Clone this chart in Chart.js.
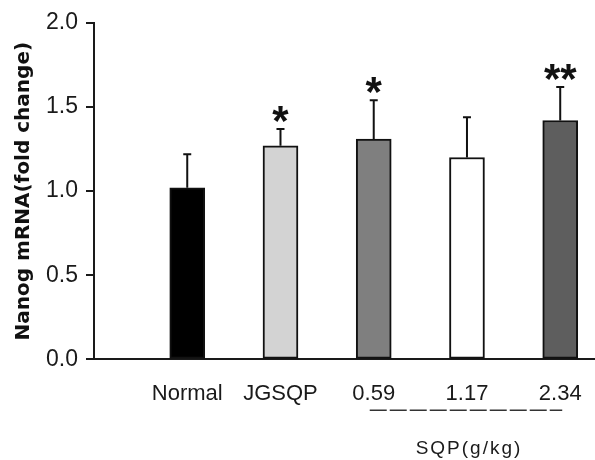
<!DOCTYPE html>
<html>
<head>
<meta charset="utf-8">
<script src="https://cdn.jsdelivr.net/npm/chart.js@4.4.1/dist/chart.umd.min.js"></script>
<style>
html,body{margin:0;padding:0;background:#fff;}
#wrap{width:595px;height:460px;position:relative;}
</style>
</head>
<body>
<div id="wrap"><canvas id="c" width="595" height="460"></canvas></div>
<script>
const categories = ['Normal', 'JGSQP', '0.59', '1.17', '2.34'];
const values = [1.02, 1.27, 1.31, 1.20, 1.42];
const errors = [0.20, 0.10, 0.23, 0.24, 0.20];
const significance = ['', '*', '*', '', '**'];
const barColors = ['#000000', '#d3d3d3', '#7f7f7f', '#ffffff', '#5e5e5e'];
const yTicks = [0, 0.5, 1.0, 1.5, 2.0];
const yTitle = 'Nanog mRNA(fold change)';
const groupLabel = 'SQP(g/kg)';
const groupFrom = 2; // index of first SQP dose
const groupTo = 4;   // index of last SQP dose

const ink = '#1a1a1a';

const annotations = {
  id: 'annotations',
  afterDatasetsDraw(chart) {
    const ctx = chart.ctx;
    const ys = chart.scales.y;
    const meta = chart.getDatasetMeta(0);
    ctx.save();
    ctx.strokeStyle = '#111';
    ctx.fillStyle = '#111';
    ctx.lineWidth = 2;
    meta.data.forEach((bar, i) => {
      const px = bar.x;
      const top = ys.getPixelForValue(values[i]);
      const et = ys.getPixelForValue(values[i] + errors[i]);
      ctx.beginPath();
      ctx.moveTo(px, top);
      ctx.lineTo(px, et);
      ctx.moveTo(px - 4, et);
      ctx.lineTo(px + 4, et);
      ctx.stroke();
      if (significance[i]) {
        ctx.font = 'bold 42px "Liberation Sans", Arial, sans-serif';
        ctx.textAlign = 'center';
        ctx.textBaseline = 'alphabetic';
        const m = ctx.measureText(significance[i]);
        const cy = et - 15;
        const base = cy + (m.actualBoundingBoxAscent - m.actualBoundingBoxDescent) / 2;
        ctx.fillText(significance[i], px, base);
      }
    });
    ctx.restore();
  },
  afterDraw(chart) {
    const ctx = chart.ctx;
    const xs = chart.scales.x;
    const x0 = xs.getPixelForValue(groupFrom + 1) - 4;
    const x1 = xs.getPixelForValue(groupTo + 1) + 2;
    const ly = xs.top + 51;
    ctx.save();
    ctx.strokeStyle = '#333';
    ctx.lineWidth = 1.5;
    ctx.setLineDash([17, 3]);
    ctx.beginPath();
    ctx.moveTo(x0, ly);
    ctx.lineTo(x1, ly);
    ctx.stroke();
    ctx.setLineDash([]);
    ctx.fillStyle = ink;
    ctx.font = '19px "Liberation Sans", Arial, sans-serif';
    ctx.letterSpacing = '2px';
    ctx.textAlign = 'center';
    ctx.textBaseline = 'middle';
    ctx.fillText(groupLabel, (x0 + x1) / 2 + 3, xs.top + 89);
    ctx.restore();
  }
};

new Chart(document.getElementById('c'), {
  type: 'bar',
  data: {
    datasets: [{
      data: values.map((v, i) => ({ x: i + 1, y: v })),
      backgroundColor: barColors,
      borderColor: '#111',
      borderWidth: 2,
      borderSkipped: false,
      barThickness: 35
    }]
  },
  options: {
    responsive: false,
    devicePixelRatio: 1,
    animation: false,
    layout: { padding: { top: 23, left: 0, right: 0, bottom: 0 } },
    plugins: { legend: { display: false }, tooltip: { enabled: false } },
    scales: {
      x: {
        type: 'linear',
        min: 0,
        max: 5.373,
        offset: false,
        grid: { display: false },
        border: { display: true, color: ink, width: 2 },
        afterBuildTicks: s => { s.ticks = categories.map((c, i) => ({ value: i + 1 })); },
        ticks: {
          autoSkip: false,
          maxRotation: 0,
          padding: 13,
          color: ink,
          font: { family: '"Liberation Sans", Arial, sans-serif', size: 22 },
          callback: v => categories[v - 1] ?? ''
        },
        afterFit: s => { s.height = 100.7; }
      },
      y: {
        min: 0,
        max: 2,
        afterBuildTicks: s => { s.ticks = yTicks.map(v => ({ value: v })); },
        grid: { drawOnChartArea: false, drawTicks: true, tickLength: 8, color: ink, lineWidth: 2 },
        border: { display: true, color: ink, width: 2 },
        ticks: {
          padding: 8,
          color: ink,
          font: { family: '"Liberation Sans", Arial, sans-serif', size: 23 },
          callback: v => Number(v).toFixed(1)
        },
        title: {
          display: true,
          text: yTitle,
          color: '#111',
          font: { family: '"DejaVu Sans", sans-serif', size: 20, weight: 'bold' },
          padding: { top: 12, bottom: 0 }
        },
        afterFit: s => { s.width = 94; }
      }
    }
  },
  plugins: [annotations]
});
</script>
</body>
</html>
